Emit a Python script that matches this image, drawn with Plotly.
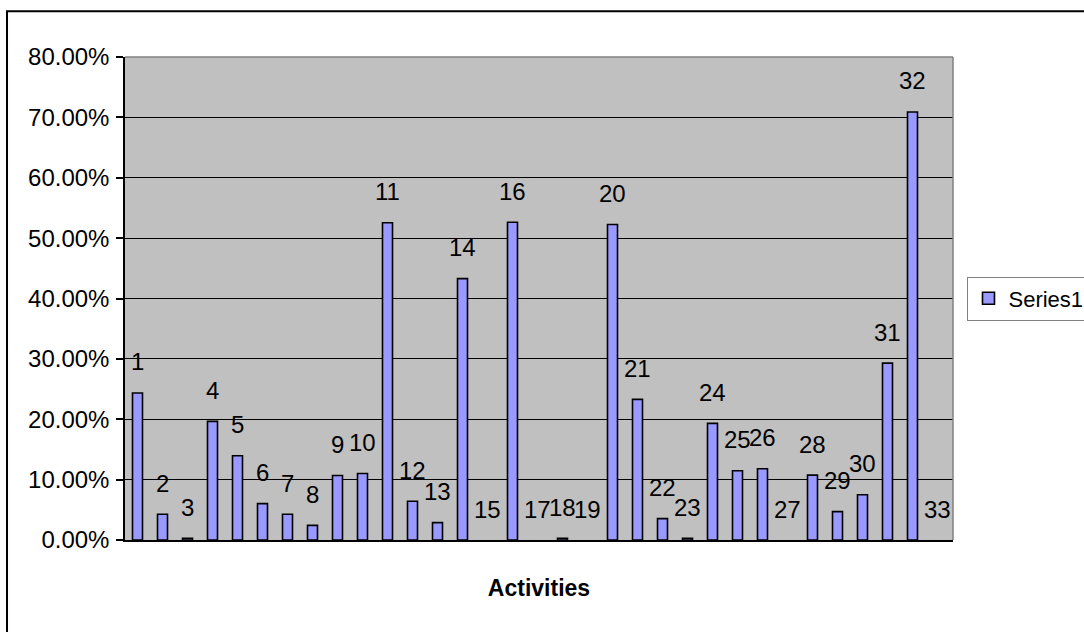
import plotly.graph_objects as go

# Activity numbers (categories) and the share recorded for each one
activities = [str(i) for i in range(1, 34)]
shares = [
    0.2435, 0.0426, 0.0030, 0.1965, 0.1395, 0.0603, 0.0426, 0.0243, 0.1068, 0.1101,
    0.5254, 0.0642, 0.0288, 0.4330, 0.0, 0.5264, 0.0, 0.0030, 0.0, 0.5226,
    0.2330, 0.0354, 0.0030, 0.1931, 0.1146, 0.1179, 0.0, 0.1075, 0.0470, 0.0750,
    0.2930, 0.7090, 0.0,
]
y_ticks = [0.0, 0.1, 0.2, 0.3, 0.4, 0.5, 0.6, 0.7, 0.8]

FONT = "Liberation Sans, Arial, sans-serif"

# empty activities get no outline, so nothing is drawn for them
outline_widths = [1.6 if v > 0 else 0 for v in shares]

fig = go.Figure()
fig.add_trace(go.Bar(
    x=activities,
    y=shares,
    name="Series1",
    marker=dict(color="#9999FF", line=dict(color="#000000", width=outline_widths)),
    hoverinfo="x+y",
))

# Category labels sitting above each bar (position index on the category axis)
annotations = [
    dict(x=i, y=v, xref="x", yref="y", text=a, showarrow=False,
         yanchor="middle", yshift=31,
         font=dict(family=FONT, size=24, color="#000000"))
    for i, (a, v) in enumerate(zip(activities, shares))
]

shapes = [
    # gray frame along the top and right of the plot area
    dict(type="line", xref="paper", yref="paper", x0=0, x1=1, y0=1, y1=1,
         line=dict(color="#808080", width=1.5), layer="above"),
    dict(type="line", xref="paper", yref="paper", x0=1, x1=1, y0=0, y1=1,
         line=dict(color="#808080", width=1.5), layer="above"),
    # outer chart border
    dict(type="rect", xref="paper", yref="paper",
         x0=-0.1425, x1=1.6, y0=1.0945, y1=-0.6,
         line=dict(color="#000000", width=2), fillcolor="rgba(0,0,0,0)",
         layer="above"),
]

fig.update_layout(
    width=1084, height=632,
    margin=dict(l=125, r=131, t=57, b=92, autoexpand=False),
    paper_bgcolor="#FFFFFF",
    plot_bgcolor="#C0C0C0",
    bargap=0.6,
    font=dict(family=FONT, size=24, color="#000000"),
    showlegend=True,
    legend=dict(
        x=1.0175, xanchor="left", y=0.5, yanchor="middle",
        bgcolor="#FFFFFF", bordercolor="#808080", borderwidth=1,
        font=dict(family=FONT, size=22, color="#000000"),
        itemwidth=30,
    ),
    annotations=annotations,
    shapes=shapes,
)

fig.update_xaxes(
    type="category",
    showticklabels=False,
    ticks="",
    showgrid=False,
    showline=True, linecolor="#000000", linewidth=1.5,
    title=dict(text="<b>Activities</b>", standoff=39,
               font=dict(family=FONT, size=23, color="#000000")),
)

fig.update_yaxes(
    range=[0, 0.8],
    tickvals=y_ticks,
    tickformat=".2%",
    ticks="outside", ticklen=7, tickcolor="#000000", tickwidth=1.5,
    ticklabelstandoff=2,
    tickfont=dict(family=FONT, size=24, color="#000000"),
    showgrid=True, gridcolor="#000000", gridwidth=1,
    zeroline=False,
    showline=True, linecolor="#000000", linewidth=1.5,
)

fig.write_html("out.html")
